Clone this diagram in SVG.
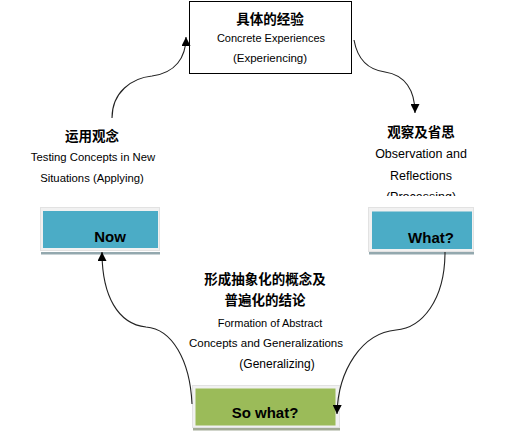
<svg xmlns="http://www.w3.org/2000/svg" width="515" height="433" viewBox="0 0 515 433">
<style>
.t{font-family:"Liberation Sans",Arial,"Noto Sans CJK SC",sans-serif;fill:#000;text-anchor:middle}
.cj{font-family:"Noto Sans CJK SC","Noto Sans CJK JP",sans-serif;font-weight:bold;font-size:13.5px;fill:#000;text-anchor:middle}
.lbl{font-family:"Liberation Sans",Arial,sans-serif;font-weight:bold;font-size:15px;fill:#000;text-anchor:middle}
.outer{fill:#f1f1f1;stroke:#e2e2e2;stroke-width:1}
.teal{fill:#4bacc6}
.green{fill:#9bbb59}
.conn{fill:none;stroke:#222;stroke-width:1.1}
</style>
<defs>
<marker id="ah" markerUnits="userSpaceOnUse" markerWidth="9" markerHeight="9" viewBox="0 0 8 8" refX="8" refY="4" orient="auto">
<path d="M0,0 L8,4 L0,8 z" fill="#000"/>
</marker>
<clipPath id="clipR"><rect x="340" y="100" width="175" height="96"/></clipPath>
</defs>
<rect width="515" height="433" fill="#fff"/>

<g id="concrete">
<rect x="189.5" y="1.5" width="162" height="72" fill="#fff" stroke="#000" stroke-width="1"/>
<text class="cj" x="270" y="24">具体的经验</text>
<text class="t" x="271" y="42" font-size="11">Concrete Experiences</text>
<text class="t" x="270" y="62" font-size="11.5">(Experiencing)</text>
</g>

<g id="observation">
<g clip-path="url(#clipR)">
<text class="cj" x="421" y="137">观察及省思</text>
<text class="t" x="421" y="158" font-size="12.5">Observation and</text>
<text class="t" x="421" y="180" font-size="12.5">Reflections</text>
<text class="t" x="421" y="201" font-size="12.5">(Processing)</text>
</g>
</g>

<g id="applying">
<text class="cj" x="92" y="141">运用观念</text>
<text class="t" x="93" y="161" font-size="11.3">Testing Concepts in New</text>
<text class="t" x="92" y="182" font-size="11.3">Situations (Applying)</text>
</g>

<g id="generalizing">
<text class="cj" x="265" y="284">形成抽象化的概念及</text>
<text class="cj" x="265" y="305">普遍化的结论</text>
<text class="t" x="270" y="327" font-size="11">Formation of Abstract</text>
<text class="t" x="266" y="347" font-size="11.5">Concepts and Generalizations</text>
<text class="t" x="277" y="368" font-size="12">(Generalizing)</text>
</g>

<g id="now">
<rect x="41" y="252" width="119" height="2.5" fill="#93a8ae"/>
<rect class="outer" x="40.5" y="207.5" width="119" height="43"/>
<rect class="teal" x="43" y="211" width="115" height="37"/>
<text class="lbl" x="110" y="242">Now</text>
</g>

<g id="what">
<rect x="369" y="252" width="105" height="2.5" fill="#93a8ae"/>
<rect class="outer" x="368.5" y="207.5" width="105" height="44"/>
<rect class="teal" x="372" y="211.5" width="100" height="37.5"/>
<text class="lbl" x="431" y="243">What?</text>
</g>

<g id="sowhat">
<rect x="193" y="428" width="147" height="2.5" fill="#a3ab97"/>
<rect class="outer" x="192.5" y="385.5" width="147" height="42"/>
<rect class="green" x="195.5" y="388.5" width="140" height="37"/>
<text class="lbl" x="265" y="418">So what?</text>
</g>

<g id="connectors">
<path class="conn" d="M112,118 C112,92 132,78 152,76 C175,73 186,58 186,37" marker-end="url(#ah)"/>
<path class="conn" d="M354,40 C358,62 370,70 385,72 C405,75 415,90 415,113" marker-end="url(#ah)"/>
<path class="conn" d="M445,252 C445,300 422,328 396,330 C362,333 338,370 337,414" marker-end="url(#ah)"/>
<path class="conn" d="M192,404 C190,360 172,329 146,327 C118,324 102,296 102,252" marker-end="url(#ah)"/>
</g>
</svg>
